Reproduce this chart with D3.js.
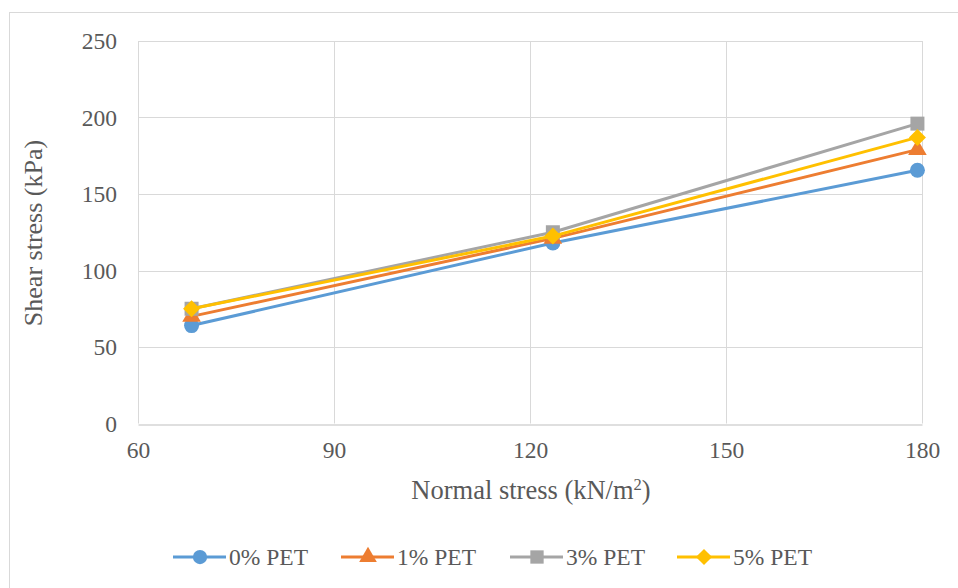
<!DOCTYPE html>
<html><head><meta charset="utf-8">
<script src="https://cdn.jsdelivr.net/npm/d3@7"></script>
<style>body{margin:0;background:#fff}svg{display:block}</style>
</head><body>
<script>
const normalStress = [68.2, 123.5, 179.3];
const seriesNames = ["0% PET", "1% PET", "3% PET", "5% PET"];
const pet0 = [64, 118, 165.5];
const pet1 = [70, 121, 179];
const pet3 = [75, 125, 196];
const pet5 = [75, 122.5, 187];
const xTicks = [60, 90, 120, 150, 180];
const yTicks = [0, 50, 100, 150, 200, 250];
const colors = ["#5b9bd5", "#ed7d31", "#a5a5a5", "#ffc000"];
const seriesValues = [pet0, pet1, pet3, pet5];

const W = 958, H = 588;
const FONT = '"Liberation Serif", "Times New Roman"';
const svg = d3.select("body").append("svg").attr("width", W).attr("height", H);
svg.append("rect").attr("x", 9.5).attr("y", 12.5).attr("width", 960).attr("height", 600)
  .attr("fill", "#fff").attr("stroke", "#d9d9d9").attr("stroke-width", 1);

const x = d3.scaleLinear().domain([60, 180]).range([138, 922]);
const y = d3.scaleLinear().domain([0, 250]).range([423.5, 41]);
const tc = "#595959";

function marker(sel, s, k) {
  k = k || 1;
  if (s === 0) sel.append("circle").attr("r", 7.5 * k);
  else if (s === 1) sel.append("path").attr("d", d3.symbol().type(d3.symbolTriangle).size(150 * k * k)());
  else if (s === 2) sel.append("rect").attr("x", -7 * k).attr("y", -7 * k).attr("width", 14 * k).attr("height", 14 * k);
  else sel.append("path").attr("d", `M0,${-8.5 * k}L${8.5 * k},0L0,${8.5 * k}L${-8.5 * k},0Z`);
}

// gridlines
const g = svg.append("g");
g.selectAll("line.h").data(yTicks.filter(d => d > 0)).join("line")
  .attr("x1", x(60)).attr("x2", x(180)).attr("y1", d => Math.round(y(d)) + 0.5).attr("y2", d => Math.round(y(d)) + 0.5)
  .attr("stroke", "#d9d9d9").attr("stroke-width", 1);
g.selectAll("line.v").data(xTicks).join("line")
  .attr("y1", y(250)).attr("y2", y(0)).attr("x1", d => Math.round(x(d)) + 0.5).attr("x2", d => Math.round(x(d)) + 0.5)
  .attr("stroke", "#d9d9d9").attr("stroke-width", 1);

// axes
const xAxis = svg.append("g").attr("transform", `translate(0,${Math.round(y(0)) + 0.5})`)
  .call(d3.axisBottom(x).tickValues(xTicks).tickSize(0).tickPadding(17));
xAxis.attr("font-family", null);
xAxis.select(".domain").attr("stroke", "#bfbfbf").attr("stroke-width", 1.2);
xAxis.selectAll("text").style("font-family", FONT).style("font-size", "23.5px").attr("fill", tc);

const yAxis = svg.append("g").attr("transform", `translate(${x(60)},0)`)
  .call(d3.axisLeft(y).tickValues(yTicks).tickSize(0).tickPadding(21));
yAxis.attr("font-family", null);
yAxis.select(".domain").remove();
yAxis.selectAll("text").style("font-family", FONT).style("font-size", "23.5px").attr("fill", tc);

// titles
const xt = svg.append("text").attr("x", 531).attr("y", 499).attr("text-anchor", "middle")
  .style("font-family", FONT).style("font-size", "26.5px").attr("fill", tc);
xt.append("tspan").text("Normal stress (kN/m");
xt.append("tspan").text("2").style("font-size", "16.5px").attr("dy", -9);
xt.append("tspan").text(")").attr("dy", 9);

svg.append("text").attr("transform", "translate(42,233) rotate(-90)").attr("text-anchor", "middle")
  .style("font-family", FONT).style("font-size", "26px").attr("fill", tc).text("Shear stress (kPa)");

// series
const line = d3.line().x((d, i) => x(normalStress[i])).y(d => y(d));
seriesValues.forEach((vals, s) => {
  svg.append("path").datum(vals).attr("d", line).attr("fill", "none")
    .attr("stroke", colors[s]).attr("stroke-width", 3).attr("stroke-linejoin", "round");
  svg.selectAll(null).data(vals).join("g")
    .attr("transform", (d, i) => `translate(${x(normalStress[i])},${y(d)})`)
    .attr("fill", colors[s])
    .each(function () { marker(d3.select(this), s); });
});

// legend
const legX = [173, 341, 510, 677];
const legY = 557;
seriesNames.forEach((name, s) => {
  const lg = svg.append("g");
  lg.append("line").attr("x1", legX[s]).attr("x2", legX[s] + 53).attr("y1", legY).attr("y2", legY)
    .attr("stroke", colors[s]).attr("stroke-width", 3);
  lg.append("g").attr("transform", `translate(${legX[s] + 27},${legY})`).attr("fill", colors[s])
    .call(sel => marker(sel, s, 0.95));
  lg.append("text").attr("x", legX[s] + 56).attr("y", legY + 8)
    .style("font-family", FONT).style("font-size", "23.5px").attr("fill", tc).text(name);
});
</script>
</body></html>
